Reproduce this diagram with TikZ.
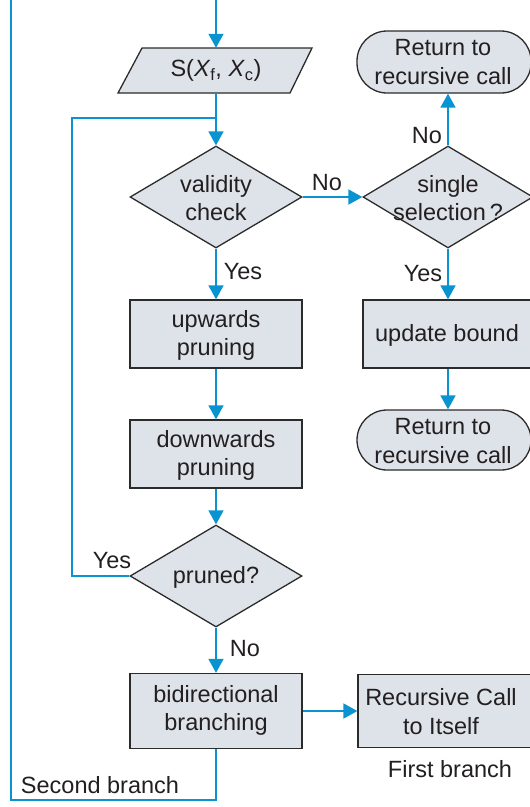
\documentclass[tikz,border=0pt]{standalone}
\usepackage{fontspec}
\setmainfont{Liberation Sans}
\usetikzlibrary{shapes.geometric,arrows.meta}
\definecolor{flowblue}{HTML}{0A93D1}
\definecolor{boxfill}{HTML}{DEE3EA}
\definecolor{boxline}{HTML}{2B2B2B}
\definecolor{txt}{HTML}{231F20}
\tikzset{
  base/.style={draw=boxline, line width=1.3pt, fill=boxfill, inner sep=0pt},
  procbox/.style={base, rectangle, minimum width=172pt, minimum height=68pt},
  decbox/.style={base, diamond, minimum width=172pt, minimum height=102pt},
  termbox/.style={base, rectangle, rounded corners=30pt, minimum width=174pt, minimum height=62pt},
  lbl/.style={text=txt, font=\fontsize{23.5}{28.5}\selectfont, align=center, inner sep=0pt},
  flow/.style={draw=flowblue, line width=1.8pt, -{Triangle[length=14pt,width=15pt]}},
  line/.style={draw=flowblue, line width=1.8pt},
}
\begin{document}
\begin{tikzpicture}[x=1pt,y=-1pt]
\useasboundingbox (0,0) rectangle (530,807);
\clip (0,0) rectangle (530,807);
% coordinates
\coordinate (top) at (216,-5);
\coordinate (join) at (216,118);
% parallelogram
\draw[base] (142,48) -- (312,48) -- (290,93) -- (118,93) -- cycle;
\node[lbl, minimum height=45pt] (par) at (216,70.5) {S(\textit{X}\textsubscript{f}, \textit{X}\textsubscript{c})};
% nodes
\node[decbox] (vc) at (216,197) {};
\node[lbl] (vct) at (216,198) {validity\\check};
\node[procbox] (up) at (216,334) {};
\node[lbl] (upt) at (216,335.5) {upwards\\pruning};
\node[procbox] (down) at (216,454) {};
\node[lbl] (downt) at (216,455.5) {downwards\\pruning};
\node[decbox] (pr) at (216,576) {};
\node[lbl] (prt) at (216,577) {pruned?};
\node[procbox, minimum height=75pt] (bi) at (216,711) {};
\node[lbl] (bit) at (216,710.5) {bidirectional\\branching};
\node[base, rectangle, minimum width=182pt, minimum height=73pt] (rc) at (449,711) {};
\node[lbl] (rct) at (441,711.5) {Recursive Call\\to Itself};
\node[decbox, minimum width=170pt] (ss) at (448,197) {};
\node[lbl] (sst) at (448,198) {single\\selection\,?};
\node[termbox] (rt1) at (444,62) {};
\node[lbl] (rt1t) at (443,62) {Return to\\recursive call};
\node[procbox, minimum width=170pt] (ub) at (448,334) {};
\node[lbl] (ubt) at (447,335.5) {update bound};
\node[termbox, minimum height=60pt] (rt2) at (444,440) {};
\node[lbl] (rt2t) at (443,441) {Return to\\recursive call};
% connectors
\draw[flow] (top) -- (par.north);
\draw[flow] (par.south) -- (vc.north);
\draw[flow] (vc.east) -- (ss.west);
\draw[flow] (ss.north) -- (rt1.south -| ss.north);
\draw[flow] (ss.south) -- (ub.north);
\draw[flow] (ub.south) -- (rt2.north -| ub.south);
\draw[flow] (vc.south) -- (up.north);
\draw[flow] (up.south) -- (down.north);
\draw[flow] (down.south) -- (pr.north);
\draw[flow] (pr.south) -- (bi.north);
\draw[flow] (bi.east) -- (rc.west);
\draw[line] (pr.west) -- (72,576) |- (join);
\draw[line] (bi.south) |- (11,800) -- (11,-5);
% edge labels
\node[lbl] (no1) at (327,183) {No};
\node[lbl] (no2) at (427,136) {No};
\node[lbl] (yes2) at (423,274) {Yes};
\node[lbl] (yes1) at (243,272) {Yes};
\node[lbl] (no3) at (245,649) {No};
\node[lbl] (yes3) at (112,561) {Yes};
\node[lbl] (sb) at (100,785) {Second branch};
\node[lbl] (fb) at (450,769) {First branch};
\end{tikzpicture}
\end{document}
